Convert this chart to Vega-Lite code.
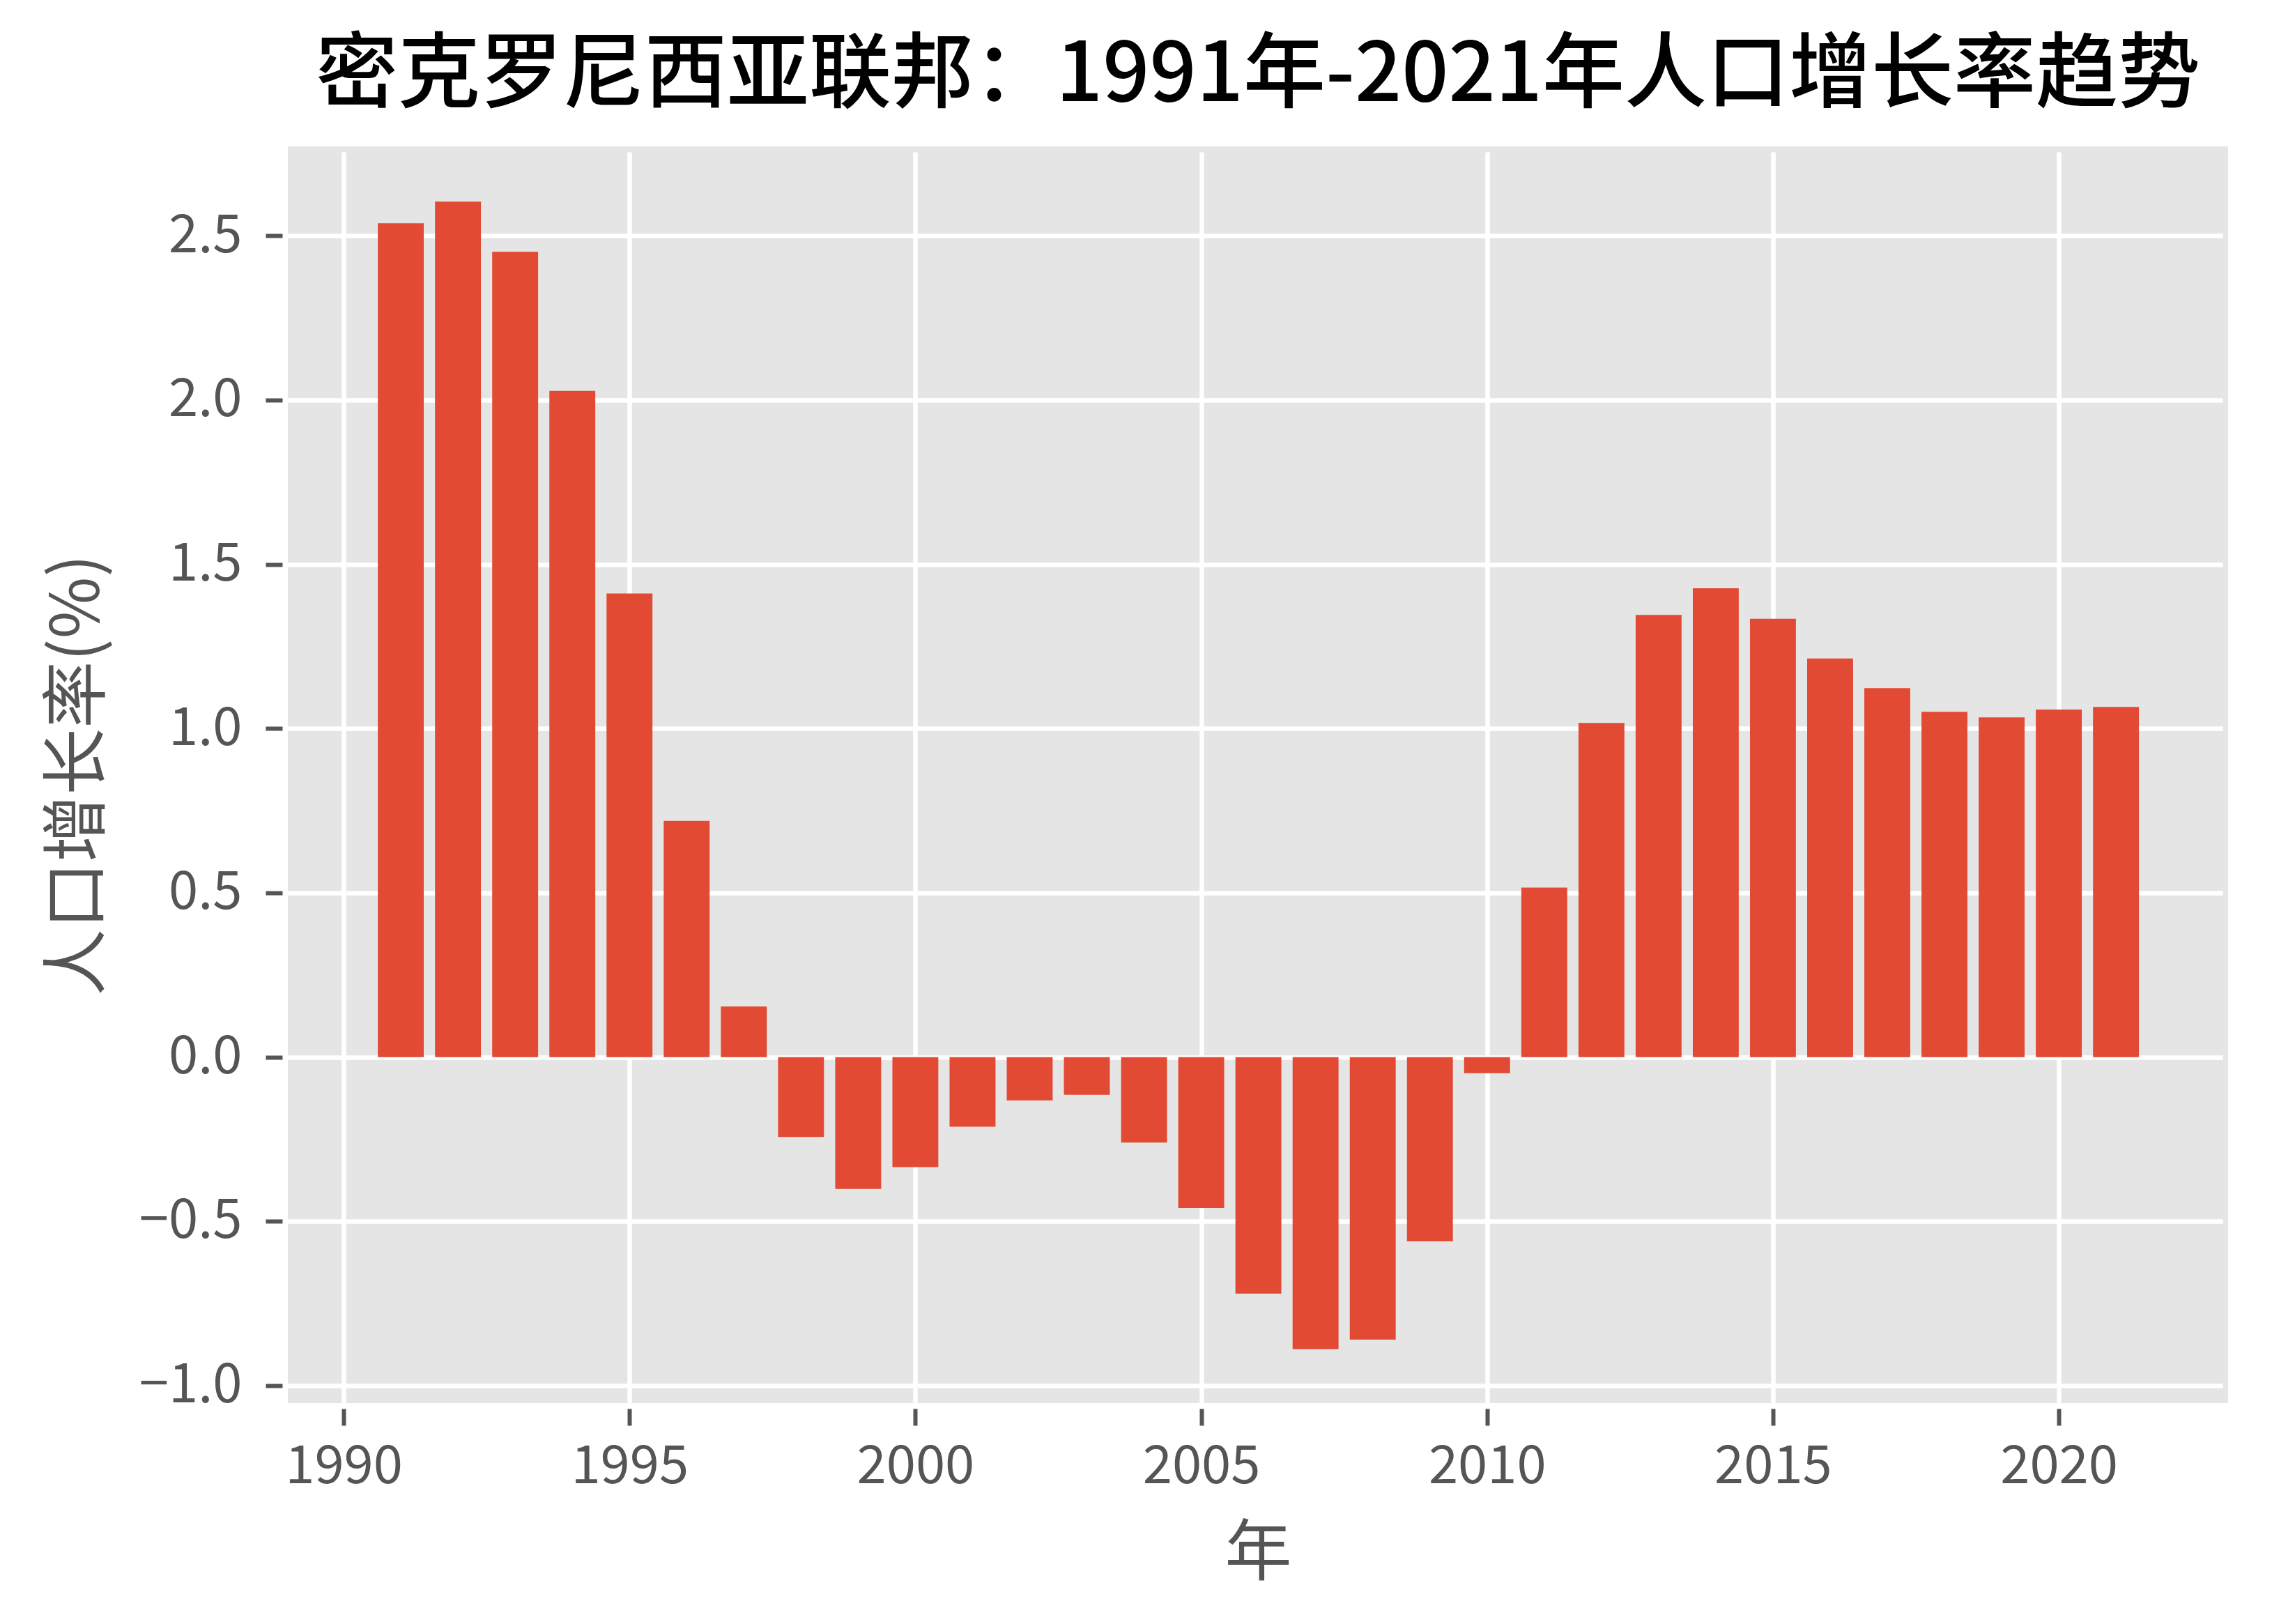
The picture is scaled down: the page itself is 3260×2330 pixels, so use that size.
{
  "$schema": "https://vega.github.io/schema/vega-lite/v6.json",
  "autosize": {"type": "none"},
  "width": 2784,
  "height": 1803,
  "padding": {"left": 413, "top": 210, "right": 63, "bottom": 317},
  "background": "white",
  "title": {
    "text": "密克罗尼西亚联邦：1991年-2021年人口增长率趋势",
    "font": "Noto Sans CJK SC",
    "fontSize": 118,
    "fontWeight": 500,
    "color": "black",
    "anchor": "middle",
    "frame": "group",
    "offset": 40
  },
  "config": {
    "view": {"fill": "#E5E5E5", "stroke": null},
    "axis": {
      "domain": false,
      "gridColor": "white",
      "gridWidth": 6.5,
      "tickColor": "#555555",
      "tickWidth": 6,
      "tickSize": 24,
      "offset": 8,
      "labelColor": "#555555",
      "labelFont": "Noto Sans CJK SC",
      "labelFontSize": 76,
      "titleColor": "#555555",
      "titleFont": "Noto Sans CJK SC",
      "titleFontSize": 96,
      "titleFontWeight": "normal"
    }
  },
  "data": {
    "values": [
      {"year": 1991, "rate": 2.538},
      {"year": 1992, "rate": 2.604},
      {"year": 1993, "rate": 2.451},
      {"year": 1994, "rate": 2.028},
      {"year": 1995, "rate": 1.411},
      {"year": 1996, "rate": 0.719},
      {"year": 1997, "rate": 0.154},
      {"year": 1998, "rate": -0.243},
      {"year": 1999, "rate": -0.401},
      {"year": 2000, "rate": -0.335},
      {"year": 2001, "rate": -0.212},
      {"year": 2002, "rate": -0.132},
      {"year": 2003, "rate": -0.115},
      {"year": 2004, "rate": -0.26},
      {"year": 2005, "rate": -0.459},
      {"year": 2006, "rate": -0.72},
      {"year": 2007, "rate": -0.889},
      {"year": 2008, "rate": -0.86},
      {"year": 2009, "rate": -0.561},
      {"year": 2010, "rate": -0.049},
      {"year": 2011, "rate": 0.516},
      {"year": 2012, "rate": 1.017},
      {"year": 2013, "rate": 1.346},
      {"year": 2014, "rate": 1.427},
      {"year": 2015, "rate": 1.334},
      {"year": 2016, "rate": 1.213},
      {"year": 2017, "rate": 1.123},
      {"year": 2018, "rate": 1.051},
      {"year": 2019, "rate": 1.034},
      {"year": 2020, "rate": 1.058},
      {"year": 2021, "rate": 1.066}
    ]
  },
  "mark": {"type": "bar", "color": "#E24A33", "width": 65.9},
  "encoding": {
    "x": {
      "field": "year",
      "type": "quantitative",
      "scale": {"domain": [1989.085, 2022.9], "nice": false, "zero": false},
      "axis": {
        "title": "年",
        "values": [1990, 1995, 2000, 2005, 2010, 2015, 2020],
        "format": "d",
        "labelPadding": 22,
        "titlePadding": 40
      }
    },
    "y": {
      "field": "rate",
      "type": "quantitative",
      "scale": {"domain": [-1.053, 2.772], "nice": false, "zero": false},
      "axis": {
        "title": "人口增长率(%)",
        "values": [-1.0, -0.5, 0.0, 0.5, 1.0, 1.5, 2.0, 2.5],
        "format": ".1f",
        "labelPadding": 34,
        "titlePadding": 44
      }
    }
  }
}
